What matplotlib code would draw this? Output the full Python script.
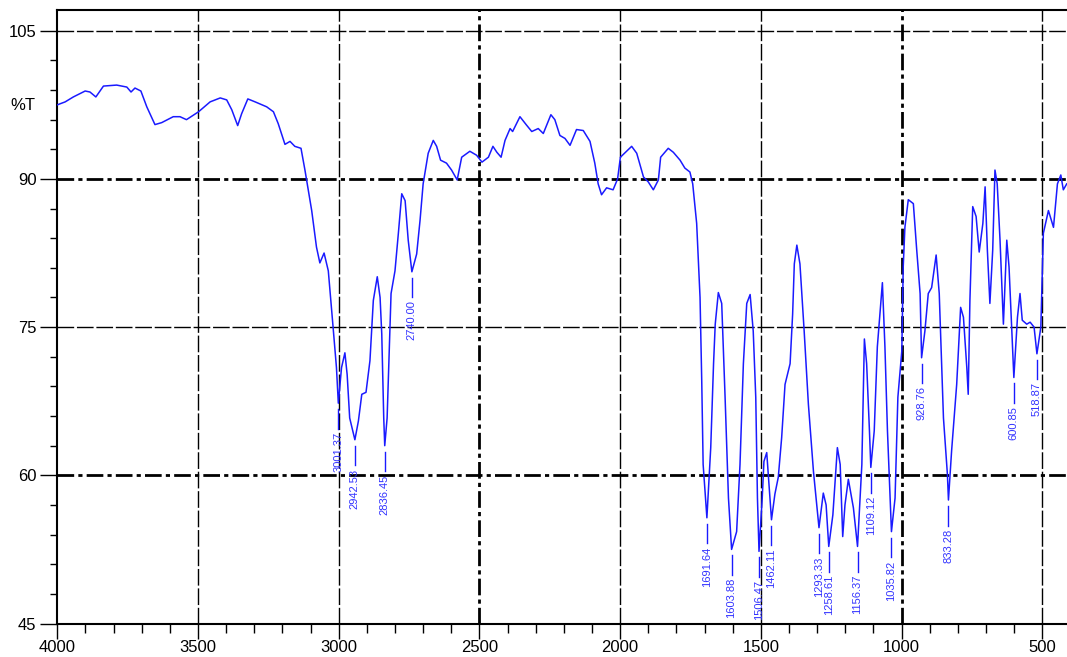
import numpy as np
import matplotlib.pyplot as plt
from matplotlib.ticker import MultipleLocator

plt.rcParams['font.family'] = ['Liberation Sans', 'DejaVu Sans']

# IR spectrum
wavenumber = [4000, 3972, 3943, 3901, 3884, 3863, 3836, 3789, 3753, 3738, 3724, 3703, 3682,
              3653, 3629, 3588, 3564, 3541, 3498, 3457, 3421, 3398, 3380, 3359, 3345, 3323,
              3297, 3256, 3232, 3215, 3191, 3173, 3156, 3134, 3120, 3096, 3079, 3067, 3052,
              3037, 3025, 3020, 3008, 3001.37, 2990, 2978, 2970, 2961, 2942.53, 2930, 2918,
              2903, 2889, 2877, 2863, 2853, 2847, 2840, 2836.45, 2828, 2818, 2814, 2800,
              2788, 2776, 2764, 2753, 2740.00, 2723, 2711, 2700, 2682, 2664, 2652, 2638,
              2617, 2599, 2579, 2563, 2534, 2510, 2491, 2468, 2452, 2438, 2423, 2409, 2391,
              2382, 2356, 2334, 2314, 2291, 2273, 2246, 2232, 2214, 2196, 2178, 2155, 2131,
              2107, 2090, 2078, 2066, 2048, 2025, 2009, 1999, 1959, 1941, 1917, 1900, 1882,
              1864, 1856, 1829, 1811, 1787, 1770, 1752, 1742, 1728, 1716, 1710, 1705,
              1691.64, 1678, 1668, 1662, 1651, 1639, 1627, 1615, 1603.88, 1586, 1574, 1562,
              1550, 1538, 1527, 1518, 1512, 1506.47, 1495, 1489, 1479, 1471, 1462.11, 1450,
              1438, 1426, 1414, 1396, 1387, 1381, 1372, 1361, 1346, 1331, 1313, 1293.33,
              1278, 1268, 1258.61, 1244, 1228, 1218, 1209, 1201, 1189, 1171, 1156.37, 1141,
              1132, 1124, 1114, 1109.12, 1097, 1086, 1068, 1059, 1050, 1035.82, 1023, 1013,
              999, 994, 988, 976, 958, 946, 934, 928.76, 917, 905, 893, 877, 866, 851, 837,
              833.28, 822, 804, 790, 780, 768, 763, 757, 747, 735, 724, 711, 703, 695, 686,
              676, 668, 660, 650, 638, 626, 618, 608, 600.85, 588, 579, 571, 555, 543, 529,
              518.87, 505, 496, 478, 460, 446, 434, 425, 413]
transmittance = [97.5, 97.8, 98.3, 98.9, 98.8, 98.3, 99.4, 99.5, 99.3, 98.8, 99.2, 98.9, 97.3,
                 95.5, 95.7, 96.3, 96.3, 96.0, 96.8, 97.8, 98.2, 98.0, 97.0, 95.4, 96.6, 98.1,
                 97.8, 97.3, 96.8, 95.6, 93.5, 93.8, 93.3, 93.1, 90.9, 86.8, 83.1, 81.5, 82.5,
                 80.7, 76.7, 75.0, 70.9, 67.3, 70.9, 72.4, 70.2, 65.8, 63.6, 65.5, 68.2,
                 68.4, 71.6, 77.7, 80.1, 78.0, 74.3, 65.8, 63.0, 65.8, 75.0, 78.4, 80.7,
                 84.5, 88.5, 87.8, 83.8, 80.6, 82.4, 85.8, 89.5, 92.6, 93.9, 93.3, 91.9,
                 91.6, 90.9, 89.9, 92.2, 92.8, 92.4, 91.7, 92.2, 93.3, 92.7, 92.2, 93.9, 95.1,
                 94.8, 96.3, 95.5, 94.8, 95.1, 94.6, 96.5, 96.0, 94.4, 94.1, 93.4, 95.0, 94.9,
                 93.8, 91.6, 89.5, 88.4, 89.1, 88.9, 90.0, 92.2, 93.3, 92.6, 90.2, 89.7, 88.9,
                 89.9, 92.2, 93.1, 92.7, 91.9, 91.1, 90.7, 89.5, 85.5, 78.0, 69.6, 61.1,
                 55.7, 62.8, 71.3, 75.3, 78.5, 77.4, 67.9, 57.7, 52.5, 54.3, 61.1, 71.3,
                 77.4, 78.3, 74.6, 67.9, 57.7, 52.3, 57.7, 61.4, 62.3, 59.1, 55.5, 58.1,
                 59.8, 63.8, 69.2, 71.3, 76.3, 81.4, 83.3, 81.4, 74.6, 67.2, 60.4, 54.7,
                 58.2, 57.0, 52.8, 56.0, 62.8, 61.1, 53.8, 57.0, 59.6, 56.7, 52.8, 61.1,
                 73.8, 71.3, 64.5, 60.8, 64.5, 73.0, 79.5, 73.0, 64.5, 54.3, 57.7, 67.9,
                 72.6, 81.1, 85.1, 87.9, 87.5, 82.8, 78.4, 71.9, 74.6, 78.4, 79.0, 82.3, 78.4,
                 65.8, 60.1, 57.5, 62.5, 69.2, 77.0, 76.0, 70.9, 68.2, 77.7, 87.2, 86.2, 82.6,
                 85.5, 89.2, 82.8, 77.4, 82.8, 90.9, 89.5, 83.8, 75.3, 83.8, 81.1, 74.6, 69.9,
                 76.0, 78.4, 75.7, 75.3, 75.5, 75.0, 72.3, 75.0, 84.5, 86.8, 85.1, 89.5,
                 90.4, 88.9, 89.5]

peak_labels = ["3001.37", "2942.53", "2836.45", "2740.00", "1691.64", "1603.88",
               "1506.47", "1462.11", "1293.33", "1258.61", "1156.37", "1109.12",
               "1035.82", "928.76", "833.28", "600.85", "518.87"]

fig = plt.figure(figsize=(10.67, 6.57), dpi=100)
ax = fig.add_axes([57.3 / 1067, 33.5 / 657, 1009.7 / 1067, 613.5 / 657])

ax.set_xlim(4000, 412)
ax.set_ylim(45, 107.1)

# grid lines, styled like the instrument printout
thin = dict(color="black", linewidth=1.0, dashes=(12, 2), zorder=1)
thick = dict(color="black", linewidth=2.0, dashes=(6, 1.5, 1.5, 1.5), zorder=1)
for g in [3500, 3000, 2000, 1500, 500]:
    ax.axvline(g, **thin)
for g in [2500, 1000]:
    ax.axvline(g, **thick)
for g in [105, 75]:
    ax.axhline(g, **thin)
for g in [90, 60]:
    ax.axhline(g, **thick)

ax.plot(wavenumber, transmittance, color="#1a1aff", linewidth=1.1, zorder=3)

# peak markers: short line under each minimum and the value below it
wn_inc = np.array(wavenumber)[::-1]
t_inc = np.array(transmittance)[::-1]
for lab in peak_labels:
    w = float(lab)
    t = np.interp(w, wn_inc, t_inc)
    ax.plot([w, w], [t - 0.6, t - 2.6], color="#1a1aff", linewidth=1.0, zorder=3)
    ax.text(w, t - 2.9, lab, rotation=90, ha="center", va="top",
            fontsize=8, color="#3333ff", zorder=4)

ax.xaxis.set_major_locator(MultipleLocator(500))
ax.xaxis.set_minor_locator(MultipleLocator(100))
ax.set_yticks([45, 60, 75, 90, 105])
ax.yaxis.set_minor_locator(MultipleLocator(3))
ax.tick_params(axis="x", which="major", length=11, width=1.0, pad=1, labelsize=12)
ax.tick_params(axis="x", which="minor", length=6.5, width=1.0)
ax.tick_params(axis="y", which="major", length=12, width=1.0, pad=3, labelsize=12)
ax.tick_params(axis="y", which="minor", length=5, width=1.0)

ax.text(-0.022, 97.4, "%T", transform=ax.get_yaxis_transform(), ha="right",
        va="center", fontsize=12)

for side in ["left", "bottom", "top"]:
    ax.spines[side].set_linewidth(1.5)
ax.spines["right"].set_visible(False)

plt.savefig("out.png", dpi=100)
